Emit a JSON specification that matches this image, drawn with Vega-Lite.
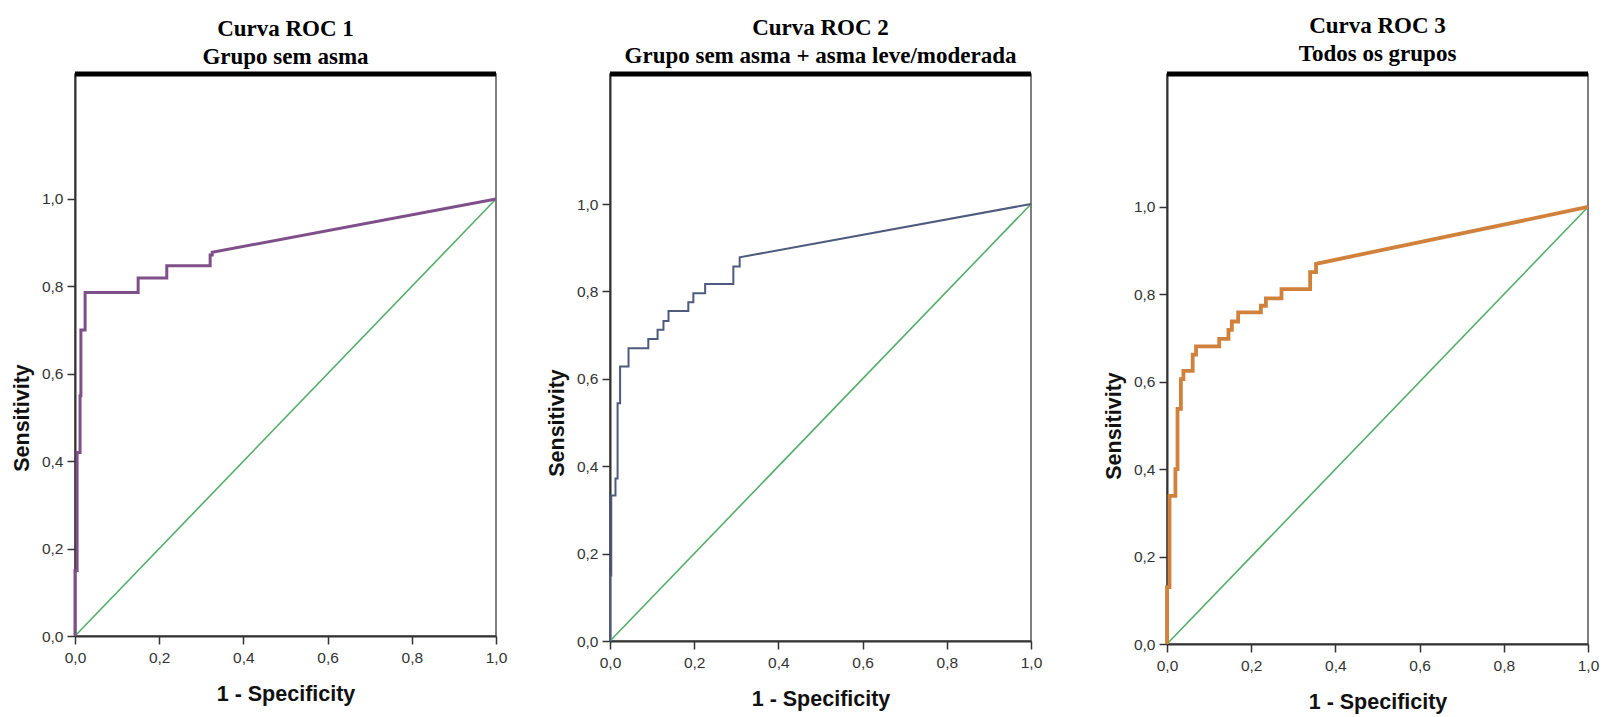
{
  "$schema": "https://vega.github.io/schema/vega-lite/v6.json",
  "background": "white",
  "padding": {"left": 10, "top": 14, "right": 5, "bottom": 5},
  "datasets": {
    "diag": [{"x": 0, "y": 0}, {"x": 1, "y": 1}],
    "roc1": [
      {"x": 0, "y": 0}, {"x": 0, "y": 0.15}, {"x": 0.005, "y": 0.15}, {"x": 0.005, "y": 0.42},
      {"x": 0.012, "y": 0.42}, {"x": 0.012, "y": 0.55}, {"x": 0.014, "y": 0.55}, {"x": 0.014, "y": 0.70},
      {"x": 0.024, "y": 0.70}, {"x": 0.024, "y": 0.786}, {"x": 0.15, "y": 0.786}, {"x": 0.15, "y": 0.819},
      {"x": 0.218, "y": 0.819}, {"x": 0.218, "y": 0.847}, {"x": 0.321, "y": 0.847}, {"x": 0.321, "y": 0.872},
      {"x": 0.326, "y": 0.872}, {"x": 0.326, "y": 0.878}, {"x": 1, "y": 1}
    ],
    "roc2": [
      {"x": 0, "y": 0}, {"x": 0, "y": 0.15}, {"x": 0.003, "y": 0.15}, {"x": 0.003, "y": 0.333},
      {"x": 0.013, "y": 0.333}, {"x": 0.013, "y": 0.372}, {"x": 0.018, "y": 0.372}, {"x": 0.018, "y": 0.544},
      {"x": 0.024, "y": 0.544}, {"x": 0.024, "y": 0.628}, {"x": 0.044, "y": 0.628}, {"x": 0.044, "y": 0.670},
      {"x": 0.091, "y": 0.670}, {"x": 0.091, "y": 0.691}, {"x": 0.113, "y": 0.691}, {"x": 0.113, "y": 0.712},
      {"x": 0.127, "y": 0.712}, {"x": 0.127, "y": 0.732}, {"x": 0.139, "y": 0.732}, {"x": 0.139, "y": 0.755},
      {"x": 0.186, "y": 0.755}, {"x": 0.186, "y": 0.775}, {"x": 0.198, "y": 0.775}, {"x": 0.198, "y": 0.796},
      {"x": 0.226, "y": 0.796}, {"x": 0.226, "y": 0.817}, {"x": 0.293, "y": 0.817}, {"x": 0.293, "y": 0.857},
      {"x": 0.308, "y": 0.857}, {"x": 0.308, "y": 0.878}, {"x": 1, "y": 1}
    ],
    "roc3": [
      {"x": 0, "y": 0}, {"x": 0, "y": 0.13}, {"x": 0.006, "y": 0.13}, {"x": 0.006, "y": 0.339},
      {"x": 0.02, "y": 0.339}, {"x": 0.02, "y": 0.40}, {"x": 0.025, "y": 0.40}, {"x": 0.025, "y": 0.538},
      {"x": 0.033, "y": 0.538}, {"x": 0.033, "y": 0.606}, {"x": 0.039, "y": 0.606}, {"x": 0.039, "y": 0.625},
      {"x": 0.061, "y": 0.625}, {"x": 0.061, "y": 0.662}, {"x": 0.069, "y": 0.662}, {"x": 0.069, "y": 0.681},
      {"x": 0.124, "y": 0.681}, {"x": 0.124, "y": 0.698}, {"x": 0.146, "y": 0.698}, {"x": 0.146, "y": 0.719},
      {"x": 0.154, "y": 0.719}, {"x": 0.154, "y": 0.738}, {"x": 0.169, "y": 0.738}, {"x": 0.169, "y": 0.759},
      {"x": 0.223, "y": 0.759}, {"x": 0.223, "y": 0.774}, {"x": 0.235, "y": 0.774}, {"x": 0.235, "y": 0.791},
      {"x": 0.272, "y": 0.791}, {"x": 0.272, "y": 0.812}, {"x": 0.340, "y": 0.812}, {"x": 0.340, "y": 0.851},
      {"x": 0.354, "y": 0.851}, {"x": 0.354, "y": 0.870}, {"x": 1, "y": 1}
    ]
  },
  "config": {
    "view": {"stroke": "#555555", "strokeWidth": 1.5},
    "axis": {
      "grid": false, "domainColor": "#333333", "domainWidth": 2, "tickColor": "#333333", "tickWidth": 1.5, "tickSize": 8,
      "labelFont": "Liberation Sans", "labelFontSize": 15.5, "labelColor": "#333333", "labelFlush": false, "labelOverlap": false,
      "titleFont": "Liberation Sans", "titleFontSize": 21.5, "titleFontWeight": "bold", "titleColor": "#111111", "titleBaseline": "middle"
    },
    "axisX": {"labelBaseline": "middle", "labelPadding": 13, "titleY": 58, "titleX": 210.5},
    "axisY": {"labelPadding": 4, "titleX": -53},
    "title": {"font": "Liberation Serif", "fontSize": 23, "fontWeight": "bold", "lineHeight": 28, "frame": "group", "anchor": "middle", "color": "#000000"}
  },
  "spacing": 37,
  "hconcat": [
    {
      "width": 421, "height": 562,
      "title": {"text": ["Curva ROC 1", "Grupo sem asma"], "offset": 2.5},
      "layer": [
        {"data": {"name": "diag"}, "mark": {"type": "line", "color": "#55ad6a", "strokeWidth": 1.6},
         "encoding": {
           "x": {"field": "x", "type": "quantitative", "scale": {"domain": [0, 1], "nice": false}, "axis": {"values": [0, 0.2, 0.4, 0.6, 0.8, 1], "labelExpr": "replace(format(datum.value, '.1f'), '.', ',')", "title": "1 - Specificity"}},
           "y": {"field": "y", "type": "quantitative", "scale": {"domain": [0, 1.286], "nice": false}, "axis": {"values": [0, 0.2, 0.4, 0.6, 0.8, 1], "labelExpr": "replace(format(datum.value, '.1f'), '.', ',')", "title": "Sensitivity", "titleY": 343.5}}
         }},
        {"data": {"name": "roc1"}, "mark": {"type": "line", "color": "#7f4f8a", "strokeWidth": 3},
         "encoding": {
           "x": {"field": "x", "type": "quantitative", "title": "1 - Specificity"},
           "y": {"field": "y", "type": "quantitative", "title": "Sensitivity"},
           "order": {"value": null}
         }},
        {"data": {"values": [{}]}, "mark": {"type": "rule", "color": "#000000", "strokeWidth": 5},
         "encoding": {"y": {"datum": 1.286, "type": "quantitative"}}}
      ]
    },
    {
      "spacing": 59,
      "hconcat": [
        {
          "width": 421, "height": 567,
          "title": {"text": ["Curva ROC 2", "Grupo sem asma + asma leve/moderada"], "offset": 3.5},
          "layer": [
            {"data": {"name": "diag"}, "mark": {"type": "line", "color": "#55ad6a", "strokeWidth": 1.6},
             "encoding": {
               "x": {"field": "x", "type": "quantitative", "scale": {"domain": [0, 1], "nice": false}, "axis": {"values": [0, 0.2, 0.4, 0.6, 0.8, 1], "labelExpr": "replace(format(datum.value, '.1f'), '.', ',')", "title": "1 - Specificity"}},
               "y": {"field": "y", "type": "quantitative", "scale": {"domain": [0, 1.2975], "nice": false}, "axis": {"values": [0, 0.2, 0.4, 0.6, 0.8, 1], "labelExpr": "replace(format(datum.value, '.1f'), '.', ',')", "title": "Sensitivity", "titleY": 348.5}}
             }},
            {"data": {"name": "roc2"}, "mark": {"type": "line", "color": "#4f5b7e", "strokeWidth": 2},
             "encoding": {
               "x": {"field": "x", "type": "quantitative", "title": "1 - Specificity"},
               "y": {"field": "y", "type": "quantitative", "title": "Sensitivity"},
               "order": {"value": null}
             }},
            {"data": {"values": [{}]}, "mark": {"type": "rule", "color": "#000000", "strokeWidth": 5},
             "encoding": {"y": {"datum": 1.2975, "type": "quantitative"}}}
          ]
        },
        {
          "width": 421, "height": 570,
          "title": {"text": ["Curva ROC 3", "Todos os grupos"], "offset": 5.5},
          "layer": [
            {"data": {"name": "diag"}, "mark": {"type": "line", "color": "#55ad6a", "strokeWidth": 1.6},
             "encoding": {
               "x": {"field": "x", "type": "quantitative", "scale": {"domain": [0, 1], "nice": false}, "axis": {"values": [0, 0.2, 0.4, 0.6, 0.8, 1], "labelExpr": "replace(format(datum.value, '.1f'), '.', ',')", "title": "1 - Specificity"}},
               "y": {"field": "y", "type": "quantitative", "scale": {"domain": [0, 1.3043], "nice": false}, "axis": {"values": [0, 0.2, 0.4, 0.6, 0.8, 1], "labelExpr": "replace(format(datum.value, '.1f'), '.', ',')", "title": "Sensitivity", "titleY": 351.5}}
             }},
            {"data": {"name": "roc3"}, "mark": {"type": "line", "color": "#d0813c", "strokeWidth": 3.8},
             "encoding": {
               "x": {"field": "x", "type": "quantitative", "title": "1 - Specificity"},
               "y": {"field": "y", "type": "quantitative", "title": "Sensitivity"},
               "order": {"value": null}
             }},
            {"data": {"values": [{}]}, "mark": {"type": "rule", "color": "#000000", "strokeWidth": 5},
             "encoding": {"y": {"datum": 1.3043, "type": "quantitative"}}}
          ]
        }
      ]
    }
  ]
}
